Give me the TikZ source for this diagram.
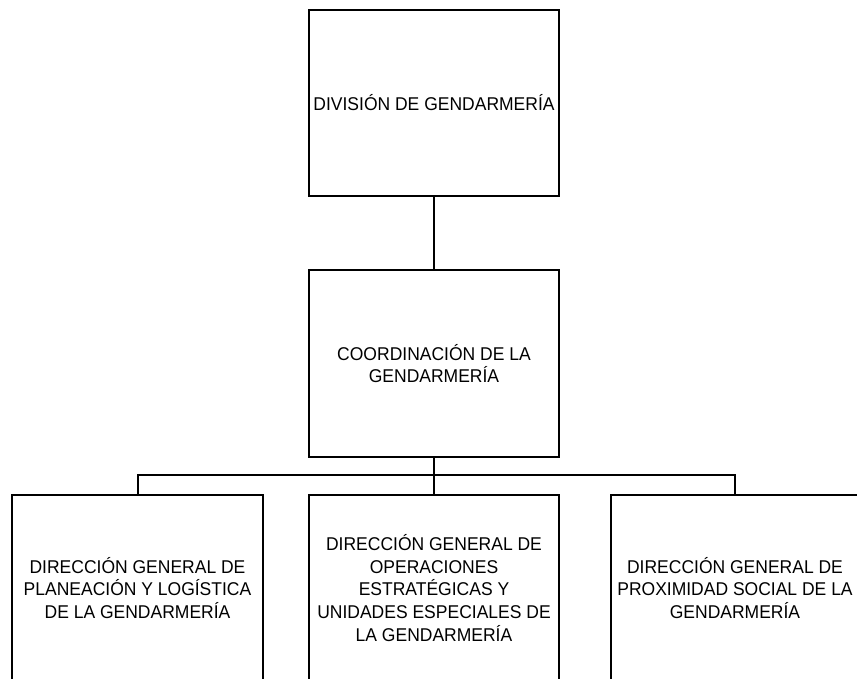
\documentclass[tikz,border=0pt]{standalone}
\usepackage{fontspec}
\setmainfont{Liberation Sans}[FakeStretch=0.946]
\begin{document}
\begin{tikzpicture}[x=1pt,y=-1pt,
  box/.style={draw=black, line width=2pt, rectangle, inner sep=0pt,
    align=center, font=\fontsize{18.5}{22.8}\selectfont, text=black},
  conn/.style={draw=black, line width=2pt}]
\useasboundingbox (0,0) rectangle (857,679);
\fill[white] (0,0) rectangle (857,679);
\clip (0,0) rectangle (857,679);
\node[box, minimum width=250pt, minimum height=186pt] (div) at (434,103) {DIVISIÓN DE GENDARMERÍA};
\node[box, minimum width=250pt, minimum height=187pt] (coord) at (434,363.5) {COORDINACIÓN DE LA\\GENDARMERÍA};
\node[box, minimum width=251pt, minimum height=186pt] (plan) at (137.5,588) {DIRECCIÓN GENERAL DE\\PLANEACIÓN Y LOGÍSTICA\\DE LA GENDARMERÍA};
\node[box, minimum width=250pt, minimum height=186pt] (oper) at (434,588) {DIRECCIÓN GENERAL DE\\OPERACIONES\\ESTRATÉGICAS Y\\UNIDADES ESPECIALES DE\\LA GENDARMERÍA};
\node[box, minimum width=248pt, minimum height=186pt] (prox) at (735,588) {DIRECCIÓN GENERAL DE\\PROXIMIDAD SOCIAL DE LA\\GENDARMERÍA};
\coordinate (bus) at (434,475);
\draw[conn] (div.south) -- (coord.north);
\draw[conn] (coord.south) -- (bus);
\draw[conn] (plan.north) |- (bus) -| (prox.north);
\draw[conn] (bus) -- (oper.north);
\end{tikzpicture}
\end{document}
